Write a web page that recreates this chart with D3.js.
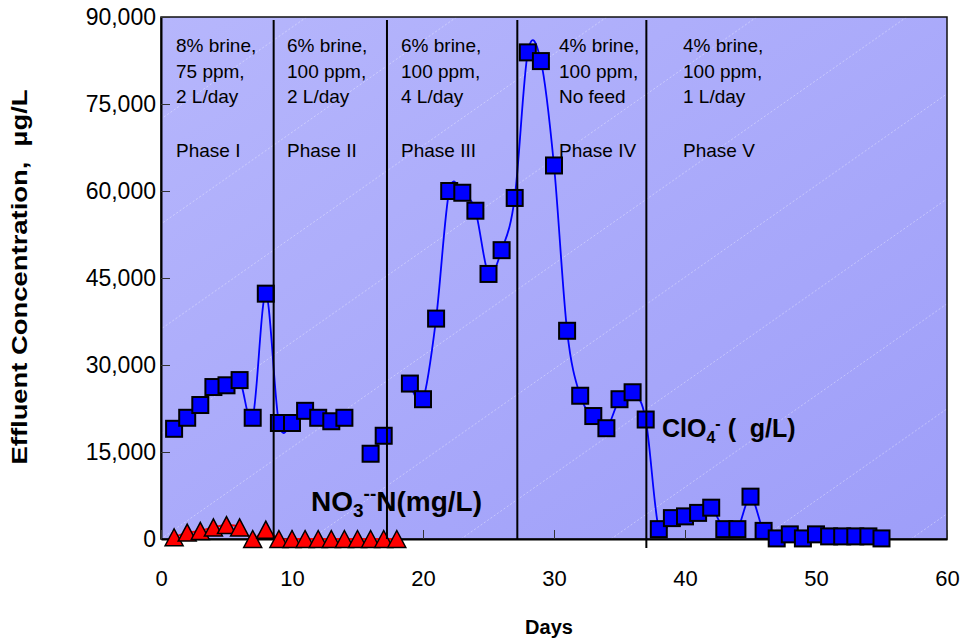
<!DOCTYPE html>
<html><head><meta charset="utf-8">
<script src="https://cdn.jsdelivr.net/npm/d3@7"></script>
<style>body{margin:0;background:#fff;} svg{display:block;font-family:"Liberation Sans",Arial,sans-serif;}</style>
</head><body><svg id="chart" width="966" height="643"></svg>
<script>
// ---------- data ----------
const clo4Days = [1,2,3,4,5,6,7,8,9,10,11,12,13,14,15,16,17,18,19,20,21,22,23,24,25,26,27,28,29,30,31,32,33,34,35,36,37,38,39,40,41,42,43,44,45,46,47,48,49,50,51,52,53,54,55];
const clo4Values = [19000,20900,23100,26200,26500,27400,20900,42300,20000,20000,22100,20900,20300,20900,null,14700,17800,null,26800,24100,38000,60000,59700,56600,45700,49800,58800,83900,82400,64400,35900,24700,21200,19100,24100,25300,20600,1700,3600,3900,4500,5400,1700,1700,7300,1400,100,800,100,800,450,450,450,450,100];
const no3Days = [1,2,3,4,5,6,7,8,9,10,11,12,13,14,15,16,17,18];
const no3Values = [300,1100,1400,2000,2400,2000,0,1600,0,0,0,0,0,0,0,0,0,0];
const phaseBoundaries = [8.6, 17.25, 27.2, 37.05];
const phaseNotes = [["8% brine,","75 ppm,","2 L/day"],["6% brine,","100 ppm,","2 L/day"],["6% brine,","100 ppm,","4 L/day"],["4% brine,","100 ppm,","No feed"],["4% brine,","100 ppm,","1 L/day"]];
const phaseNames = ["Phase I","Phase II","Phase III","Phase IV","Phase V"];
const xTicks = [0,10,20,30,40,50,60];
const yTicks = [0,15000,30000,45000,60000,75000,90000];
const xTitle = "Days";
const yTitle = "Effluent Concentration,\u00a0\u00a0µg/L";

// ---------- layout ----------
const L = 161, R = 947, T = 17, B = 539;
const svg = d3.select("#chart");
const x = d3.scaleLinear().domain([0,60]).range([L,R]);
const y = d3.scaleLinear().domain([0,90000]).range([B,T]);

const defs = svg.append("defs");
const grad = defs.append("linearGradient").attr("id","bg").attr("x1","0").attr("y1","0").attr("x2","1").attr("y2","1");
grad.append("stop").attr("offset","0").attr("stop-color","#b6b6fc");
grad.append("stop").attr("offset","1").attr("stop-color","#9e9ef9");
defs.append("clipPath").attr("id","clip").append("rect").attr("x",L).attr("y",T).attr("width",R-L).attr("height",B-T);

svg.append("rect").attr("x",L).attr("y",T).attr("width",R-L).attr("height",B-T).attr("fill","url(#bg)");
// faint diagonal texture
const diag = svg.append("g").attr("clip-path","url(#clip)");
for (let k=-6;k<10;k++){
  const x0 = L + k*150;
  diag.append("line").attr("x1",x0).attr("y1",B).attr("x2",x0+750).attr("y2",B-525)
    .attr("stroke","#fff").attr("stroke-opacity",0.45).attr("stroke-width",0.8).attr("stroke-dasharray","2,2");
}
svg.append("rect").attr("x",L).attr("y",T).attr("width",R-L).attr("height",B-T).attr("fill","none").attr("stroke","#111").attr("stroke-width",1.5);

// axes
const yAxis = d3.axisLeft(y).tickValues(yTicks).tickFormat(d3.format(",")).tickSizeInner(-9).tickSizeOuter(0).tickPadding(5);
const gy = svg.append("g").attr("transform",`translate(${L},0)`).call(yAxis);
gy.select(".domain").attr("stroke","#000").attr("stroke-width",2);
gy.selectAll(".tick line").attr("stroke","#333").attr("stroke-width",1);
gy.selectAll("text").attr("font-size",23).attr("fill","#000").attr("font-family","Liberation Sans, Arial, sans-serif");

const xAxis = d3.axisBottom(x).tickValues(xTicks).tickFormat(d3.format("d")).tickSizeInner(-9).tickSizeOuter(0).tickPadding(31);
const gx = svg.append("g").attr("transform",`translate(0,${B})`).call(xAxis);
gx.select(".domain").attr("stroke","#000").attr("stroke-width",2);
gx.selectAll(".tick line").attr("stroke","#333").attr("stroke-width",1);
gx.selectAll("text").attr("font-size",22).attr("fill","#000").attr("font-family","Liberation Sans, Arial, sans-serif");

svg.append("text").attr("x",549).attr("y",634).attr("text-anchor","middle").attr("font-size",20).attr("font-weight","bold").text(xTitle);
svg.append("text").attr("transform","translate(27,277) rotate(-90)").attr("text-anchor","middle").attr("font-size",22).attr("font-weight","bold")
  .attr("textLength",375).attr("lengthAdjust","spacingAndGlyphs").text(yTitle);

// phase notes
const noteX = [176, 287, 401, 559, 683];
phaseNotes.forEach((lines,i)=>{
  lines.forEach((s,j)=>{
    svg.append("text").attr("x",noteX[i]).attr("y",52+j*25.5).attr("font-size",19).text(s);
  });
  svg.append("text").attr("x",noteX[i]).attr("y",157).attr("font-size",19).text(phaseNames[i]);
});

// series lines
const curve = d3.curveCatmullRom.alpha(0);
const clo4 = clo4Days.map((d,i)=>({d, v:clo4Values[i]}));
const no3 = no3Days.map((d,i)=>({d, v:no3Values[i]}));
const line = d3.line().defined(p=>p.v!=null).x(p=>x(p.d)).y(p=>y(p.v)).curve(curve);
svg.append("path").attr("d",line(no3)).attr("fill","none").attr("stroke","#ff0000").attr("stroke-width",2);
svg.append("path").attr("d",line(clo4)).attr("fill","none").attr("stroke","#0000ff").attr("stroke-width",1.8);

// markers
svg.append("g").selectAll("rect").data(clo4.filter(p=>p.v!=null)).join("rect")
  .attr("x",p=>x(p.d)-8).attr("y",p=>y(p.v)-8).attr("width",16).attr("height",16)
  .attr("fill","#0000ff").attr("stroke","#000").attr("stroke-width",2);
svg.append("g").selectAll("path").data(no3).join("path")
  .attr("d",p=>{const cx=x(p.d), cy=y(p.v); return `M${cx},${cy-8.5}L${cx+9},${cy+8.5}L${cx-9},${cy+8.5}Z`;})
  .attr("fill","#ff0000").attr("stroke","#000").attr("stroke-width",1.5);

// phase boundaries (on top)
phaseBoundaries.forEach((b,i)=>{
  svg.append("line").attr("x1",x(b)).attr("x2",x(b)).attr("y1",T+3).attr("y2", i===3 ? B+9 : B)
    .attr("stroke","#000").attr("stroke-width",2);
});

// series labels
const t1 = svg.append("text").attr("x",311).attr("y",511).attr("font-size",28).attr("font-weight","bold");
t1.append("tspan").text("NO");
t1.append("tspan").attr("font-size",19).attr("dy",6).text("3");
t1.append("tspan").attr("font-size",19).attr("dy",-17).text("--");
t1.append("tspan").attr("dy",11).text("N(mg/L)");
const t2 = svg.append("text").attr("x",662).attr("y",437).attr("font-size",25).attr("font-weight","bold");
t2.append("tspan").text("ClO");
t2.append("tspan").attr("font-size",16).attr("dy",6).text("4");
t2.append("tspan").attr("font-size",16).attr("dy",-14).text("-");
t2.append("tspan").attr("dy",8).text("\u00a0(\u00a0\u00a0g/L)");
</script></body></html>
